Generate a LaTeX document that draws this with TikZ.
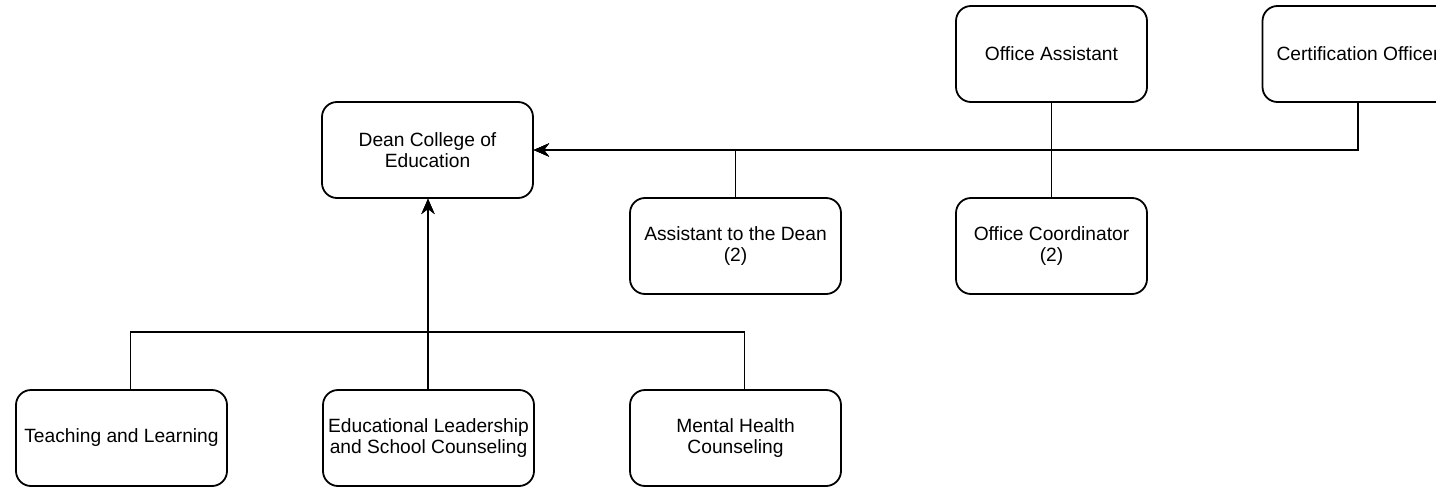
\documentclass[tikz,border=0pt]{standalone}
\usepackage{fontspec}
\setmainfont{Liberation Sans}
\usepackage{tikz}
\usetikzlibrary{shapes.geometric,arrows,arrows.meta,positioning}

\tikzset{
  unit/.style={draw, rounded corners=7.5pt, line width=0.9pt, align=center,
    minimum width=105.5pt, minimum height=48pt, inner sep=1pt,
    font=\fontsize{9.6pt}{10.4pt}\selectfont},
  office/.style={unit, minimum width=95.5pt},
  link/.style={line width=0.9pt},
  up/.style={link, -{Stealth[length=7.5pt,width=6.5pt,inset=2.5pt]}}
}

\begin{document}
\begin{tikzpicture}[x=0.5pt,y=-0.5pt]
\useasboundingbox (0,0) rectangle (1436,487);
\clip (0,0) rectangle (1436,487);
% the dean
\node[unit] (dean) at (427.5,150) {Dean College of\\Education};
% staff of the dean
\node[office] (offasst) at (1051.5,54) {Office Assistant};
\node[office] (certoff) at (1358,54) {Certification Officer};
\node[unit] (asstdean) at (735.5,246) {Assistant to the Dean\\(2)};
\node[office] (offcoord) at (1051.5,246) {Office Coordinator\\(2)};
% departments
\node[unit] (teach) at (121.5,438) {Teaching and Learning};
\node[unit] (edu) at (428.5,438) {Educational Leadership\\and School Counseling};
\node[unit] (mental) at (735.5,438) {Mental Health\\Counseling};
\coordinate (jdep) at (428,332); % edit here for the department bar
% staff lines into the dean
\draw[up] (asstdean.north) |- (dean.east);
\draw[up] (offcoord.north) |- (dean.east);
\draw[up] (offasst.south) |- (dean.east);
\draw[up] (certoff.south) |- (dean.east);
% department lines into the dean
\draw[up] ([xshift=4.5pt]teach.north) |- (jdep) -- (jdep |- dean.south);
\draw[up] (edu.north -| jdep) -- (jdep |- dean.south);
\draw[up] ([xshift=4.5pt]mental.north) |- (jdep) -- (jdep |- dean.south);
\end{tikzpicture}
\end{document}
